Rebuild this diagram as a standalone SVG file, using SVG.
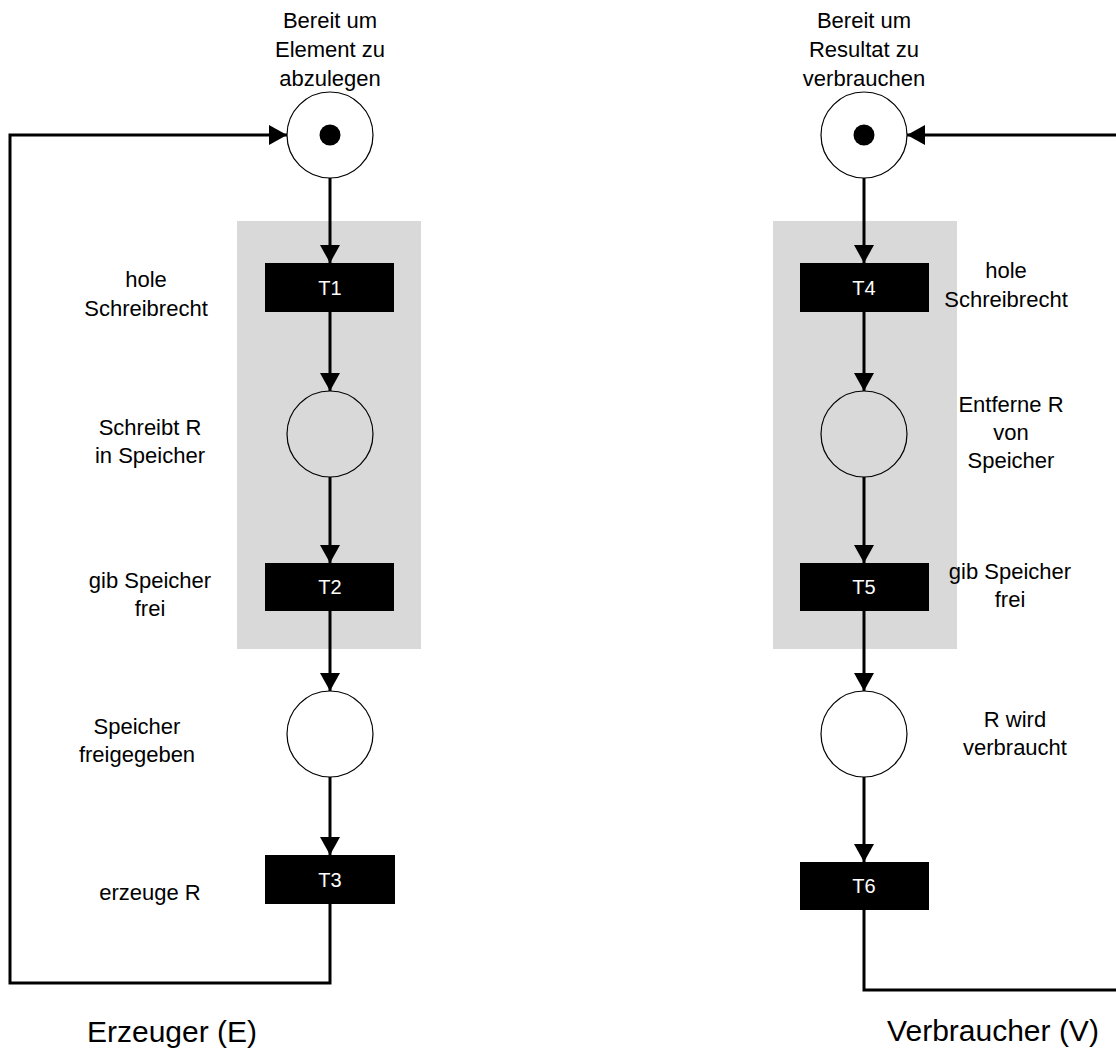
<svg xmlns="http://www.w3.org/2000/svg" width="1116" height="1052" viewBox="0 0 1116 1052">
<style>
text{font-family:"Liberation Sans",Arial,sans-serif;font-size:22px;fill:#000;text-anchor:middle}
.tl{fill:#fff;font-size:20px}
.big{font-size:30px}
.place{fill:#fff;stroke:#000;stroke-width:1.2}
.placeg{fill:none;stroke:#000;stroke-width:1.2}
.trans{fill:#000}
.grp{fill:#d9d9d9}
.arc{fill:none;stroke:#000;stroke-width:3}
</style>
<defs>
<marker id="ah" viewBox="0 0 18 20" refX="18" refY="10" markerWidth="18" markerHeight="20" markerUnits="userSpaceOnUse" orient="auto">
<path d="M0,0 L18,10 L0,20 z" fill="#000"/>
</marker>
</defs>
<rect id="groupE" class="grp" x="237" y="221" width="184" height="428"/>
<rect id="groupV" class="grp" x="773" y="221" width="184" height="428"/>
<g id="connectors">
<line class="arc" x1="330" y1="178" x2="330" y2="263" marker-end="url(#ah)"/>
<line class="arc" x1="330" y1="312" x2="330" y2="391" marker-end="url(#ah)"/>
<line class="arc" x1="330" y1="477" x2="330" y2="563" marker-end="url(#ah)"/>
<line class="arc" x1="330" y1="611" x2="330" y2="691" marker-end="url(#ah)"/>
<line class="arc" x1="330" y1="777" x2="330" y2="855" marker-end="url(#ah)"/>
<polyline class="arc" points="330,904 330,983 10,983 10,135 287,135" marker-end="url(#ah)"/>
<line class="arc" x1="864" y1="178" x2="864" y2="263" marker-end="url(#ah)"/>
<line class="arc" x1="864" y1="312" x2="864" y2="391" marker-end="url(#ah)"/>
<line class="arc" x1="864" y1="477" x2="864" y2="563" marker-end="url(#ah)"/>
<line class="arc" x1="864" y1="611" x2="864" y2="691" marker-end="url(#ah)"/>
<line class="arc" x1="864" y1="777" x2="864" y2="862" marker-end="url(#ah)"/>
<polyline class="arc" points="864,910 864,990 1125,990 1125,135 907,135" marker-end="url(#ah)"/>
</g>
<g id="P1"><circle class="place" cx="330" cy="135" r="43"/><circle cx="330" cy="135" r="10.5" fill="#000"/>
<text x="330" y="28">Bereit um</text><text x="330" y="57">Element zu</text><text x="330" y="86">abzulegen</text></g>
<g id="T1"><rect class="trans" x="265" y="263" width="129" height="49"/><text class="tl" x="330" y="295">T1</text>
<text x="146" y="287">hole</text><text x="146" y="316">Schreibrecht</text></g>
<g id="P2"><circle class="placeg" cx="330" cy="434" r="43"/>
<text x="150" y="435">Schreibt R</text><text x="150" y="463">in Speicher</text></g>
<g id="T2"><rect class="trans" x="265" y="563" width="129" height="48"/><text class="tl" x="330" y="594">T2</text>
<text x="150" y="588">gib Speicher</text><text x="150" y="616">frei</text></g>
<g id="P3"><circle class="place" cx="330" cy="734" r="43"/>
<text x="137" y="734">Speicher</text><text x="137" y="762">freigegeben</text></g>
<g id="T3"><rect class="trans" x="265" y="855" width="130" height="49"/><text class="tl" x="330" y="887">T3</text>
<text x="150" y="900">erzeuge R</text></g>
<g id="P4"><circle class="place" cx="864" cy="135" r="43"/><circle cx="864" cy="135" r="10.5" fill="#000"/>
<text x="864" y="28">Bereit um</text><text x="864" y="57">Resultat zu</text><text x="864" y="86">verbrauchen</text></g>
<g id="T4"><rect class="trans" x="800" y="263" width="129" height="49"/><text class="tl" x="864" y="295">T4</text>
<text x="1006" y="278">hole</text><text x="1006" y="307">Schreibrecht</text></g>
<g id="P5"><circle class="placeg" cx="864" cy="434" r="43"/>
<text x="1011" y="412">Entferne R</text><text x="1011" y="440">von</text><text x="1011" y="468">Speicher</text></g>
<g id="T5"><rect class="trans" x="800" y="563" width="129" height="48"/><text class="tl" x="864" y="594">T5</text>
<text x="1010" y="579">gib Speicher</text><text x="1010" y="607">frei</text></g>
<g id="P6"><circle class="place" cx="864" cy="734" r="43"/>
<text x="1015" y="727">R wird</text><text x="1015" y="755">verbraucht</text></g>
<g id="T6"><rect class="trans" x="800" y="862" width="129" height="48"/><text class="tl" x="864" y="893">T6</text></g>
<text class="big" x="172" y="1042">Erzeuger (E)</text>
<text class="big" x="993" y="1041">Verbraucher (V)</text>
</svg>
